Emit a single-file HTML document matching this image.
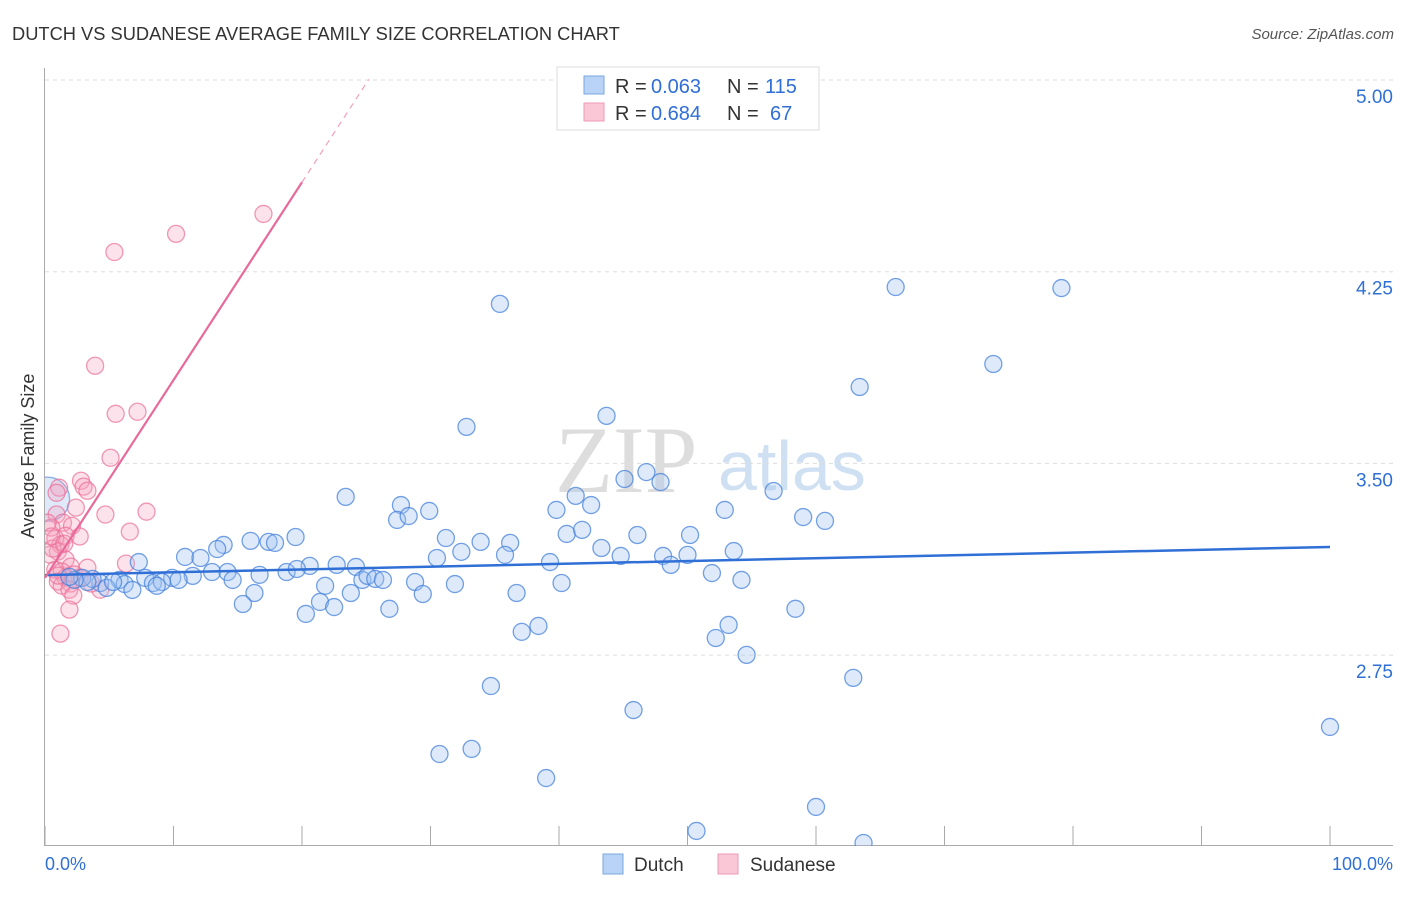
<!DOCTYPE html>
<html><head><meta charset="utf-8"><style>
body{margin:0;background:#fff;font-family:"Liberation Sans",sans-serif}
</style></head><body>
<svg width="1406" height="892" xmlns="http://www.w3.org/2000/svg" id="chart">
<text x="12" y="40" font-size="18.3" fill="#333">DUTCH VS SUDANESE AVERAGE FAMILY SIZE CORRELATION CHART</text>
<text x="1394" y="39" font-size="15" fill="#555" font-style="italic" text-anchor="end">Source: ZipAtlas.com</text>
<text x="34" y="456" font-size="18" fill="#333" text-anchor="middle" transform="rotate(-90 34 456)">Average Family Size</text>
<text x="555" y="492" font-size="95" fill="#ddd" font-family="Liberation Serif,serif">ZIP</text>
<text x="718" y="490" font-size="70" fill="#cfe0f3">atlas</text>
<defs><clipPath id="pc"><rect x="45" y="60" width="1361" height="786"/></clipPath></defs>
<g id="grid"></g><g id="axes"></g>
<g id="marks" clip-path="url(#pc)"></g>
<g id="trend"></g>
<g>
<rect x="557" y="67" width="262" height="63" fill="#fff" stroke="#ddd"/>
<rect x="584" y="76" width="20" height="18" fill="#b8d3f5" stroke="#7aa7e0"/>
<rect x="584" y="103" width="20" height="18" fill="#f9c7d6" stroke="#ee9ab4"/>
<text x="615" y="93" font-size="20" fill="#333">R =</text><text x="651" y="93" font-size="20" fill="#2f6fd6">0.063</text>
<text x="727" y="93" font-size="20" fill="#333">N =</text><text x="765" y="93" font-size="20" fill="#2f6fd6">115</text>
<text x="615" y="120" font-size="20" fill="#333">R =</text><text x="651" y="120" font-size="20" fill="#2f6fd6">0.684</text>
<text x="727" y="120" font-size="20" fill="#333">N =</text><text x="770" y="120" font-size="20" fill="#2f6fd6">67</text>
</g>
<g>
<rect x="603" y="854" width="20" height="20" fill="#b8d3f5" stroke="#7aa7e0"/>
<text x="634" y="871" font-size="19" fill="#333">Dutch</text>
<rect x="718" y="854" width="20" height="20" fill="#f9c7d6" stroke="#ee9ab4"/>
<text x="750" y="871" font-size="19" fill="#333">Sudanese</text>
</g>
<text x="45" y="870" font-size="18" fill="#2f6fd6">0.0%</text>
<text x="1393" y="870" font-size="18" fill="#2f6fd6" text-anchor="end">100.0%</text>
</svg>
<script>
const yTicks=[5.00,4.25,3.50,2.75];
const dutchX=[35.4,66.2,79.1,73.8,63.4,43.7,32.8,46.8,45.1,47.9,56.7,23.4,41.3,27.7,42.5,39.8,52.9,29.9,27.4,28.3,59.0,60.7,40.6,41.8,46.1,50.2,31.2,16.0,19.5,17.4,17.9,13.9,13.4,33.9,36.2,43.3,53.6,32.4,30.5,35.8,44.8,48.1,50.0,10.9,12.1,7.3,39.3,48.7,20.6,22.7,24.2,18.8,19.6,13.0,11.5,14.2,16.7,7.8,9.9,10.4,14.6,8.4,9.1,5.8,6.2,4.3,3.7,4.8,6.8,8.7,24.7,25.1,25.7,26.3,28.8,31.9,40.2,51.9,54.2,21.8,16.3,23.8,29.4,36.7,15.4,21.4,22.5,20.3,26.8,58.4,53.2,38.4,37.1,52.2,54.6,62.9,34.7,45.8,100,33.2,30.7,39.0,60.0,50.7,63.7,2.9,3.3,2.3,1.9,5.3];
const dutchY=[4.124,4.190,4.186,3.889,3.799,3.686,3.643,3.466,3.439,3.427,3.392,3.369,3.373,3.337,3.337,3.318,3.318,3.314,3.279,3.294,3.290,3.275,3.224,3.240,3.220,3.220,3.208,3.197,3.212,3.193,3.189,3.181,3.165,3.193,3.189,3.169,3.157,3.154,3.130,3.142,3.138,3.138,3.142,3.134,3.130,3.114,3.114,3.103,3.099,3.103,3.095,3.075,3.087,3.075,3.060,3.075,3.064,3.052,3.052,3.044,3.044,3.032,3.036,3.044,3.028,3.032,3.048,3.013,3.005,3.021,3.044,3.060,3.048,3.044,3.036,3.028,3.032,3.071,3.044,3.021,2.993,2.993,2.989,2.993,2.950,2.958,2.938,2.911,2.931,2.931,2.868,2.864,2.841,2.817,2.751,2.661,2.629,2.535,2.469,2.383,2.363,2.269,2.156,2.062,2.015,3.052,3.036,3.044,3.056,3.036];
const sudX=[17.0,10.2,5.4,3.9,5.5,7.2,5.1,2.8,3.0,3.3,1.1,0.9,7.9,2.4,4.7,0.9,1.4,6.6,2.1,0.5,2.7,1.6,0.8,1.2,6.3,1.0,0.4,1.6,2.0,3.3,0.8,1.3,2.3,1.6,2.7,1.0,2.0,1.3,1.9,4.3,2.2,1.9,1.2,0.6,0.2,0.5,1.5,3.6,1.0];
const sudY=[4.476,4.398,4.327,3.882,3.694,3.702,3.522,3.432,3.409,3.393,3.405,3.385,3.311,3.327,3.300,3.300,3.268,3.233,3.256,3.249,3.214,3.217,3.206,3.182,3.108,3.155,3.143,3.124,3.096,3.092,3.084,3.077,3.065,3.053,3.053,3.038,3.030,3.022,3.006,3.006,2.983,2.928,2.834,3.167,3.268,3.214,3.186,3.030,3.061];
const bigX=[0.2],bigY=[3.36];
const X=p=>45+p*12.85, Y=v=>80+(5-v)*255.6;
const NS='http://www.w3.org/2000/svg';
function mk(t,a,p){const e=document.createElementNS(NS,t);for(const k in a)e.setAttribute(k,a[k]);p.appendChild(e);return e;}
const grid=document.getElementById('grid'),axes=document.getElementById('axes'),marks=document.getElementById('marks'),trend=document.getElementById('trend');
yTicks.forEach(v=>{
 const l=mk('line',{x1:45,x2:1393,y1:Y(v),y2:Y(v),stroke:'#ddd','stroke-dasharray':'4,4'},grid);
 
 
 const t=mk('text',{x:1393,y:Y(v)+23,'font-size':19,fill:'#2f6fd6','text-anchor':'end'},axes);t.textContent=v.toFixed(2);
 
 
});
const ax=mk('line',{x1:44.5,x2:44.5,y1:68,y2:846,stroke:'#aaa'},axes);


const bx=mk('line',{x1:45,x2:1393,y1:845.5,y2:845.5,stroke:'#aaa'},axes);


for(let i=0;i<=10;i++){const t=mk('line',{x1:X(i*10),x2:X(i*10),y1:826,y2:846,stroke:'#aaa'},axes);
 
 }
function pts(xs,ys,fill,stroke,name,r){xs.forEach((x,i)=>{const c=mk('circle',{cx:X(x),cy:Y(ys[i]),r:r,fill:fill,stroke:stroke,'stroke-width':1.3},marks);
 
 });}
pts(bigX,bigY,'rgba(160,195,240,0.35)','rgba(100,150,220,0.7)','dutch-point-large',22);
pts(sudX,sudY,'rgba(245,160,190,0.3)','rgba(235,110,150,0.7)','sudanese-point',8.5);
pts(dutchX,dutchY,'rgba(160,195,240,0.35)','rgba(70,130,220,0.75)','dutch-point',8.5);
const bt=mk('line',{x1:X(0),y1:Y(3.063),x2:X(100),y2:Y(3.173),stroke:'#2f6fd6','stroke-width':2.5},trend);


const s0=3.052,slope=(4.60-3.052)/20;
const pt=mk('line',{x1:X(0),y1:Y(s0),x2:X(20),y2:Y(s0+slope*20),stroke:'#e8699a','stroke-width':2.2},trend);


const pd=mk('line',{x1:X(20),y1:Y(s0+slope*20),x2:X(25.2),y2:Y(s0+slope*25.2),stroke:'#f0a0bc','stroke-width':1.2,'stroke-dasharray':'6,5'},trend);


</script>
</body></html>
